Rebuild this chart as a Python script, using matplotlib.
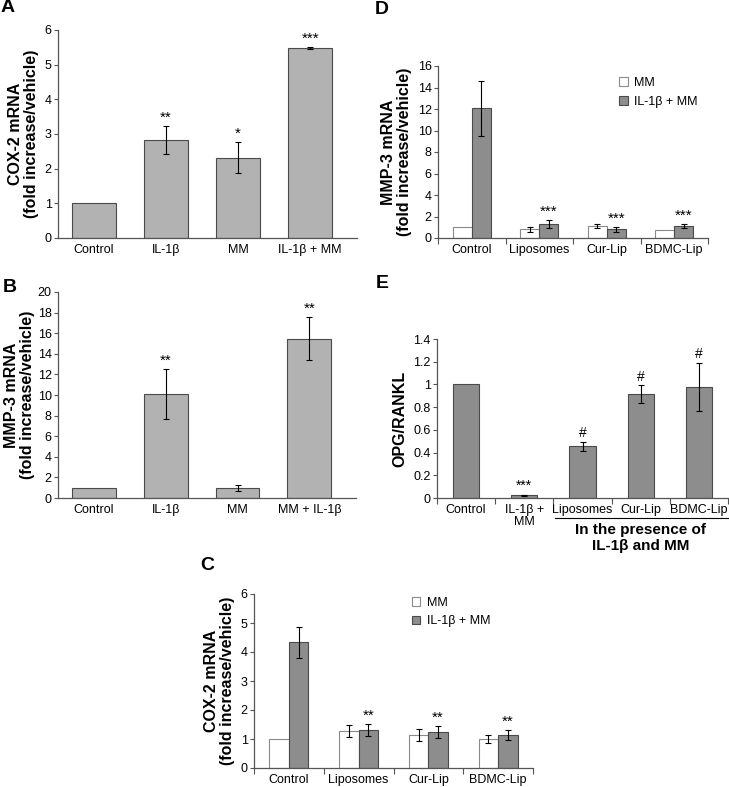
import matplotlib
matplotlib.use("Agg")
import matplotlib.pyplot as plt
import numpy as np
from matplotlib.ticker import FormatStrFormatter, FixedLocator, NullFormatter

plt.rcParams['font.family'] = ['Liberation Sans', 'DejaVu Sans']
plt.rcParams['font.size'] = 8.5

# ---------- data ----------
a_cats = ['Control', 'IL-1β', 'MM', 'IL-1β + MM']
a_vals = [1.0, 2.83, 2.32, 5.48]
a_errs = [0.0, 0.40, 0.45, 0.02]
a_sig = ['', '**', '*', '***']

b_cats = ['Control', 'IL-1β', 'MM', 'MM + IL-1β']
b_vals = [1.0, 10.1, 0.95, 15.45]
b_errs = [0.0, 2.45, 0.30, 2.1]
b_sig = ['', '**', '', '**']

grp_cats = ['Control', 'Liposomes', 'Cur-Lip', 'BDMC-Lip']
series_names = ['MM', 'IL-1β + MM']

c_mm = [1.0, 1.27, 1.13, 1.0]
c_mm_err = [0.0, 0.20, 0.20, 0.13]
c_il = [4.33, 1.32, 1.25, 1.13]
c_il_err = [0.54, 0.20, 0.20, 0.17]
c_sig = ['', '**', '**', '**']

d_mm = [1.0, 0.8, 1.1, 0.75]
d_mm_err = [0.0, 0.2, 0.2, 0.0]
d_il = [12.05, 1.3, 0.8, 1.1]
d_il_err = [2.6, 0.35, 0.2, 0.2]
d_sig = ['', '***', '***', '***']

e_cats = ['Control', 'IL-1β +\nMM', 'Liposomes', 'Cur-Lip', 'BDMC-Lip']
e_vals = [1.0, 0.025, 0.455, 0.915, 0.98]
e_errs = [0.0, 0.005, 0.04, 0.08, 0.21]
e_sig = ['', '***', '#', '#', '#']

# ---------- style ----------
LIGHT = '#b2b2b2'
DARK = '#8d8d8d'
EDGE = '#4a4a4a'

W, H = 729, 787
fig = plt.figure(figsize=(W / 100, H / 100), dpi=100)


def axes_px(left, top, right, bottom):
    return fig.add_axes([left / W, 1 - bottom / H, (right - left) / W, (bottom - top) / H])


def style(ax):
    ax.spines['top'].set_visible(False)
    ax.spines['right'].set_visible(False)
    for s in ('left', 'bottom'):
        ax.spines[s].set_color('#555555')
        ax.spines[s].set_linewidth(0.9)
    ax.tick_params(axis='y', direction='out', length=3, width=0.8, color='#555555', pad=1.5, labelsize=9)
    ax.tick_params(axis='x', length=0, pad=4, labelsize=9)


def boundary_ticks(ax, n):
    ax.xaxis.set_minor_locator(FixedLocator(np.arange(n + 1) - 0.5))
    ax.xaxis.set_minor_formatter(NullFormatter())
    ax.tick_params(axis='x', which='minor', direction='out', length=4, width=0.8, color='#555555')


def ylab(ax, txt, pad=4):
    ax.set_ylabel(txt, fontsize=11.5, fontweight='bold', labelpad=pad, linespacing=1.1)


def stars(ax, xs, tops, labels, size=11):
    for x, t, s in zip(xs, tops, labels):
        if s:
            ax.annotate(s, (x, t), xytext=(0, 1), textcoords='offset points',
                        ha='center', va='bottom', fontsize=size)


ekw = dict(ecolor='black', elinewidth=0.8, capsize=2.5, capthick=0.8)

# ---------- A ----------
axA = axes_px(58, 30, 357, 238)
x = np.arange(len(a_cats))
axA.bar(x, a_vals, width=0.61, color=LIGHT, edgecolor=EDGE, linewidth=0.8)
axA.errorbar(x[1:], a_vals[1:], yerr=a_errs[1:], fmt='none', **ekw)
axA.set_xlim(-0.5, 3.65)
axA.set_ylim(0, 6)
axA.set_yticks(range(0, 7))
axA.set_xticks(x)
axA.set_xticklabels(a_cats)
style(axA)
ylab(axA, 'COX-2 mRNA\n(fold increase/vehicle)')
stars(axA, x, np.array(a_vals) + np.array(a_errs), a_sig)

# ---------- B ----------
axB = axes_px(58, 292, 356, 498)
x = np.arange(len(b_cats))
axB.bar(x, b_vals, width=0.61, color=LIGHT, edgecolor=EDGE, linewidth=0.8)
axB.errorbar(x[1:], b_vals[1:], yerr=b_errs[1:], fmt='none', **ekw)
axB.set_xlim(-0.5, 3.65)
axB.set_ylim(0, 20)
axB.set_yticks(range(0, 21, 2))
axB.set_xticks(x)
axB.set_xticklabels(b_cats)
style(axB)
ylab(axB, 'MMP-3 mRNA\n(fold increase/vehicle)', pad=2)
stars(axB, x, np.array(b_vals) + np.array(b_errs), b_sig)


# ---------- grouped (C, D) ----------
def grouped(ax, mm, mm_err, il, il_err, sig, ylim, yticks, label, legend_xy):
    x = np.arange(len(grp_cats))
    bw = 0.28
    ax.bar(x - bw / 2, mm, width=bw, color='white', edgecolor='#8a8a8a', linewidth=0.8, label=series_names[0])
    ax.bar(x + bw / 2, il, width=bw, color=DARK, edgecolor=EDGE, linewidth=0.8, label=series_names[1])
    mm_a, mme_a = np.array(mm), np.array(mm_err)
    il_a, ile_a = np.array(il), np.array(il_err)
    m = mme_a > 0
    ax.errorbar((x - bw / 2)[m], mm_a[m], yerr=mme_a[m], fmt='none', **ekw)
    m = ile_a > 0
    ax.errorbar((x + bw / 2)[m], il_a[m], yerr=ile_a[m], fmt='none', **ekw)
    ax.set_xlim(-0.5, 3.5)
    ax.set_ylim(*ylim)
    ax.set_yticks(yticks)
    ax.set_xticks(x)
    ax.set_xticklabels(grp_cats)
    style(ax)
    boundary_ticks(ax, len(grp_cats))
    ylab(ax, label)
    stars(ax, x + bw / 2, il_a + ile_a, sig)
    leg = ax.legend(loc='upper left', bbox_to_anchor=legend_xy, frameon=False, fontsize=9,
                    handlelength=0.7, handleheight=0.7, handletextpad=0.5, labelspacing=0.55,
                    borderaxespad=0, borderpad=0)
    return leg


axC = axes_px(254, 594, 533, 768)
grouped(axC, c_mm, c_mm_err, c_il, c_il_err, c_sig, (0, 6), range(0, 7),
        'COX-2 mRNA\n(fold increase/vehicle)', (0.565, 0.985))

axD = axes_px(438, 66, 708, 238)
grouped(axD, d_mm, d_mm_err, d_il, d_il_err, d_sig, (0, 16), range(0, 17, 2),
        'MMP-3 mRNA\n(fold increase/vehicle)', (0.67, 0.935))

# ---------- E ----------
axE = axes_px(437, 339, 728, 498)
x = np.arange(len(e_cats))
axE.bar(x, e_vals, width=0.45, color=DARK, edgecolor=EDGE, linewidth=0.8)
axE.errorbar(x[1:], e_vals[1:], yerr=e_errs[1:], fmt='none', **ekw)
axE.set_xlim(-0.5, 4.5)
axE.set_ylim(0, 1.4)
axE.set_yticks(np.arange(0, 1.41, 0.2))
axE.yaxis.set_major_formatter(FormatStrFormatter('%g'))
axE.set_xticks(x)
axE.set_xticklabels(e_cats, linespacing=1.0)
style(axE)
boundary_ticks(axE, len(e_cats))
axE.set_ylabel('OPG/RANKL', fontsize=11.5, fontweight='bold', labelpad=4)
stars(axE, x, np.array(e_vals) + np.array(e_errs), e_sig, size=10)
tr = axE.get_xaxis_transform()
axE.plot([1.52, 4.5], [-0.127, -0.127], transform=tr, color='black', lw=0.8, clip_on=False)
axE.text(3.0, -0.16, 'In the presence of\nIL-1β and MM', transform=tr, ha='center', va='top',
         fontsize=11, fontweight='bold', linespacing=1.15)

# ---------- panel letters ----------
for lab, px, py in [('A', 8, 8), ('B', 10, 288), ('C', 207, 565), ('D', 382, 10), ('E', 382, 283)]:
    fig.text(px / W, 1 - py / H, lab, fontsize=14, fontweight='bold', ha='center', va='center')

fig.savefig('out.png', dpi=100)
